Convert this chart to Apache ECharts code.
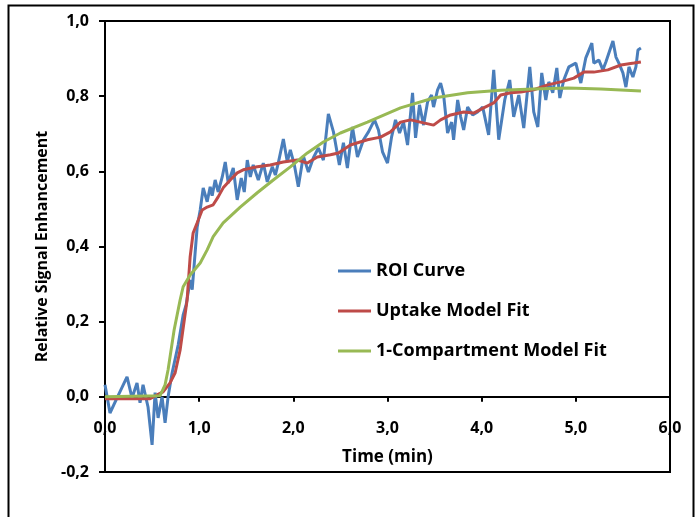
<!DOCTYPE html>
<html>
<head>
<meta charset="utf-8">
<script src="https://cdn.jsdelivr.net/npm/echarts@6/dist/echarts.min.js"></script>
<style>html,body{margin:0;padding:0;background:#fff}#c{width:697px;height:517px}</style>
</head>
<body>
<div id="c"></div>
<script>
const seriesNames = ['ROI Curve', 'Uptake Model Fit', '1-Compartment Model Fit'];
const xTicks = [0, 1, 2, 3, 4, 5, 6];
const yTicks = [-0.2, 0, 0.2, 0.4, 0.6, 0.8, 1.0];

const roiTime = [0.000,0.053,0.128,0.234,0.287,0.340,0.372,0.404,0.457,0.500,0.532,0.564,0.606,0.638,0.670,0.713,0.777,0.830,0.862,0.904,0.926,0.957,0.979,1.011,1.043,1.085,1.117,1.138,1.170,1.202,1.245,1.277,1.309,1.362,1.404,1.447,1.479,1.511,1.543,1.574,1.628,1.681,1.723,1.777,1.809,1.840,1.894,1.936,1.968,2.011,2.053,2.106,2.160,2.213,2.266,2.319,2.372,2.426,2.489,2.532,2.574,2.628,2.681,2.745,2.798,2.862,2.904,2.947,3.000,3.043,3.085,3.128,3.170,3.213,3.266,3.298,3.340,3.383,3.426,3.468,3.489,3.532,3.564,3.596,3.638,3.681,3.702,3.745,3.777,3.809,3.851,3.904,3.957,4.011,4.074,4.128,4.181,4.245,4.298,4.340,4.394,4.447,4.511,4.553,4.596,4.638,4.681,4.713,4.755,4.798,4.830,4.872,4.926,5.000,5.053,5.106,5.170,5.191,5.245,5.287,5.319,5.394,5.426,5.457,5.500,5.532,5.564,5.606,5.638,5.660,5.691];
const roiValue = [0.032,-0.043,-0.003,0.053,-0.003,0.037,-0.016,0.032,-0.027,-0.128,0.011,-0.056,0.000,-0.069,0.000,0.064,0.138,0.218,0.245,0.311,0.285,0.383,0.452,0.497,0.556,0.519,0.559,0.535,0.577,0.545,0.585,0.625,0.569,0.609,0.524,0.582,0.545,0.630,0.585,0.617,0.577,0.622,0.572,0.612,0.590,0.622,0.686,0.625,0.657,0.617,0.559,0.641,0.598,0.636,0.662,0.630,0.753,0.705,0.617,0.676,0.609,0.718,0.638,0.684,0.705,0.737,0.710,0.652,0.622,0.691,0.737,0.702,0.731,0.670,0.809,0.689,0.777,0.723,0.785,0.803,0.771,0.817,0.835,0.803,0.702,0.731,0.684,0.790,0.745,0.710,0.771,0.750,0.758,0.771,0.697,0.870,0.684,0.790,0.843,0.745,0.803,0.715,0.878,0.758,0.718,0.862,0.790,0.838,0.809,0.875,0.795,0.843,0.878,0.888,0.835,0.902,0.941,0.888,0.896,0.870,0.891,0.947,0.904,0.888,0.862,0.824,0.878,0.851,0.878,0.923,0.928];

const uptakeTime = [0,0.479,0.553,0.617,0.691,0.745,0.798,0.872,0.904,0.936,0.979,1.032,1.085,1.149,1.202,1.255,1.330,1.404,1.468,1.617,1.755,1.894,2.043,2.149,2.255,2.394,2.479,2.606,2.787,2.926,3.032,3.138,3.245,3.383,3.489,3.564,3.670,3.809,3.915,4.021,4.128,4.202,4.309,4.415,4.553,4.702,4.840,4.979,5.085,5.191,5.340,5.479,5.617,5.691];
const uptakeValue = [-0.005,-0.005,0.005,0.013,0.037,0.064,0.125,0.258,0.372,0.436,0.463,0.497,0.505,0.511,0.532,0.556,0.577,0.596,0.604,0.612,0.617,0.625,0.630,0.622,0.638,0.644,0.649,0.670,0.684,0.691,0.705,0.731,0.737,0.729,0.723,0.737,0.750,0.758,0.755,0.769,0.782,0.803,0.809,0.811,0.817,0.830,0.838,0.848,0.864,0.864,0.870,0.883,0.888,0.891];

const compTime = [0,0.585,0.638,0.670,0.734,0.798,0.830,0.904,1.011,1.085,1.149,1.255,1.436,1.617,1.787,1.968,2.149,2.319,2.500,2.787,3.138,3.489,3.851,4.202,4.553,4.915,5.266,5.691];
const compValue = [0,0.003,0.032,0.072,0.178,0.258,0.293,0.324,0.356,0.391,0.426,0.463,0.505,0.543,0.577,0.612,0.649,0.678,0.702,0.731,0.769,0.795,0.809,0.816,0.819,0.822,0.819,0.814];

const colors = ['#4A7EBB', '#BE4B48', '#98B954'];
const pairs = (t, v) => t.map((x, i) => [x, v[i]]);
const fmt = v => (Math.round(v * 10) / 10).toFixed(1).replace('.', ',');
const font = '"Open Sans", "Liberation Sans", sans-serif';

const gridTop = 21, gridBottomPx = 472;
const zeroOffset = -(gridBottomPx - gridTop) * (0 - yTicks[0]) / (yTicks[yTicks.length - 1] - yTicks[0]);

const chart = echarts.init(document.getElementById('c'), null, {renderer: 'canvas'});
chart.setOption({
  animation: false,
  backgroundColor: '#fff',
  graphic: [{
    type: 'rect', left: 6, top: 3, shape: {x: 0, y: 0, width: 685, height: 530},
    style: {fill: 'none', stroke: '#000', lineWidth: 2}, silent: true, z: 0
  }],
  grid: {left: 105, right: 27, top: gridTop, bottom: 517 - gridBottomPx, show: true, borderColor: '#000', borderWidth: 2, backgroundColor: 'transparent', outerBoundsMode: 'none', containLabel: false},
  legend: {
    orient: 'vertical', left: 338, top: 262, padding: 0, itemWidth: 33, itemHeight: 3, itemGap: 22,
    icon: 'rect', data: seriesNames,
    textStyle: {fontFamily: font, fontWeight: 'bold', fontSize: 18, color: '#000'}
  },
  xAxis: {
    type: 'value', min: xTicks[0], max: xTicks[xTicks.length - 1], interval: 1,
    offset: zeroOffset,
    axisLine: {onZero: false, lineStyle: {color: '#000', width: 2}},
    axisTick: {show: true, inside: false, length: 5, lineStyle: {color: '#000', width: 2}},
    axisLabel: {margin: 24, formatter: fmt, fontFamily: font, fontWeight: 'bold', fontSize: 16, color: '#000'},
    splitLine: {show: false},
    name: 'Time (min)', nameLocation: 'middle', nameGap: 52,
    nameTextStyle: {fontFamily: font, fontWeight: 'bold', fontSize: 17, color: '#000'}
  },
  yAxis: {
    type: 'value', min: yTicks[0], max: yTicks[yTicks.length - 1], interval: 0.2,
    axisLine: {show: true, onZero: false, lineStyle: {color: '#000', width: 2}},
    axisTick: {show: true, inside: false, length: 6, lineStyle: {color: '#000', width: 2}},
    axisLabel: {margin: 16, formatter: fmt, fontFamily: font, fontWeight: 'bold', fontSize: 16, color: '#000'},
    splitLine: {show: false},
    name: 'Relative Signal Enhancement', nameLocation: 'middle', nameGap: 54,
    nameTextStyle: {fontFamily: font, fontWeight: 'bold', fontSize: 16, color: '#000'}
  },
  series: [
    {name: seriesNames[0], type: 'line', data: pairs(roiTime, roiValue), symbol: 'none', color: colors[0], lineStyle: {width: 3, color: colors[0]}, z: 2},
    {name: seriesNames[1], type: 'line', data: pairs(uptakeTime, uptakeValue), symbol: 'none', color: colors[1], lineStyle: {width: 3, color: colors[1]}, z: 3},
    {name: seriesNames[2], type: 'line', data: pairs(compTime, compValue), symbol: 'none', color: colors[2], lineStyle: {width: 3, color: colors[2]}, z: 4}
  ]
});
</script>
</body>
</html>
